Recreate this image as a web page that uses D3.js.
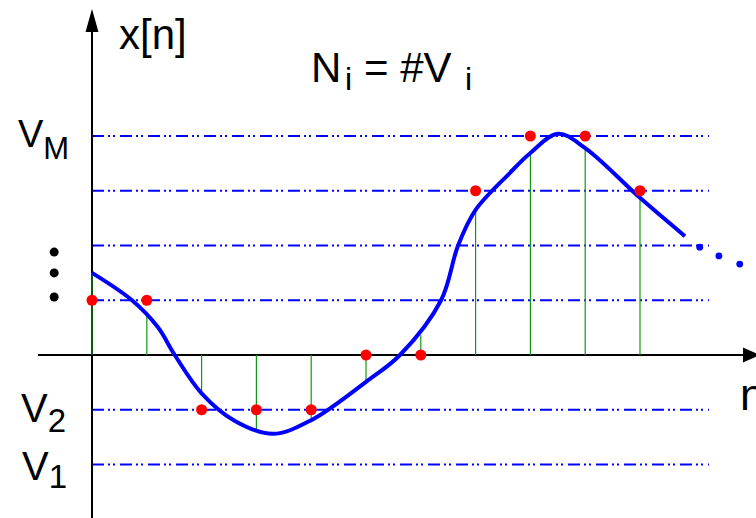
<!DOCTYPE html>
<html>
<head>
<meta charset="utf-8">
<script src="https://cdn.jsdelivr.net/npm/d3@7"></script>
<style>
  body { margin: 0; background: #fff; }
  svg { display: block; }
  text { font-family: "Liberation Sans", Arial, sans-serif; fill: #000; }
</style>
</head>
<body>
<svg id="chart" width="756" height="518"></svg>
<script>
// quantization levels (in units of the level spacing), 0 is the n axis
const levels = [-2, -1, 1, 2, 3, 4];
// sample indices
const samples = [0, 1, 2, 3, 4, 5, 6, 7, 8, 9, 10];
// value of the continuous signal at each sample (green stems)
const sampled = [1.5, 0.77, -0.7, -1.37, -1.19, -0.49, 0.36, 2.65, 3.69, 3.78, 2.87];
// quantized value of each sample (red dots)
const quantized = [1, 1, -1, -1, -1, 0, 0, 3, 4, 4, 3];
// points [n, value]
const curvePts = [
  [0, 1.5], [0.73, 1.0], [1.2, 0.51], [1.51, 0], [2, -0.7], [2.6, -1.2], [3.3, -1.44],
  [4, -1.19], [5, -0.49], [5.62, 0], [6.37, 1.0], [6.68, 2.0], [7, 2.65],
  [7.6, 3.3], [8, 3.69], [8.5, 4.04], [9, 3.78], [10, 2.87], [10.82, 2.17]
];
// trailing "continues" dots [n, value]
const trailDots = [[11.09, 1.97], [11.44, 1.81], [11.82, 1.66]];
// vertical ellipsis between V2 and VM, [n, value]
const ellipsisDots = [[-0.69, 1.88], [-0.69, 1.5], [-0.69, 1.06]];

const svg = d3.select("#chart");
const x = d3.scaleLinear().domain([0, 10]).range([92, 640]);
const y = d3.scaleLinear().domain([0, 4]).range([355, 136]);

// dash-dot level lines
svg.append("g").selectAll("line")
  .data(levels)
  .join("line")
  .attr("x1", x(0))
  .attr("x2", 709)
  .attr("y1", d => y(d))
  .attr("y2", d => y(d))
  .attr("stroke", "#0000ff")
  .attr("stroke-width", 2)
  .attr("stroke-dasharray", "12 4 2 3 2 5");

// axes
svg.append("line")
  .attr("x1", 38).attr("x2", 744)
  .attr("y1", y(0)).attr("y2", y(0))
  .attr("stroke", "#000").attr("stroke-width", 2);
svg.append("path")
  .attr("d", `M743,${y(0) - 7.5} L760,${y(0)} L743,${y(0) + 7.5} Z`)
  .attr("fill", "#000");
svg.append("line")
  .attr("x1", x(0)).attr("x2", x(0))
  .attr("y1", 518).attr("y2", 30)
  .attr("stroke", "#000").attr("stroke-width", 2);
svg.append("path")
  .attr("d", `M${x(0) - 6.5},32 L${x(0)},9 L${x(0) + 6.5},32 Z`)
  .attr("fill", "#000");

// green stems
svg.append("g").selectAll("line")
  .data(samples)
  .join("line")
  .attr("x1", d => x(d))
  .attr("x2", d => x(d))
  .attr("y1", y(0))
  .attr("y2", (d, i) => y(sampled[i]))
  .attr("stroke", "#119911")
  .attr("stroke-width", 1.2);

// continuous signal
const line = d3.line()
  .x(d => x(d[0]))
  .y(d => y(d[1]))
  .curve(d3.curveCatmullRom.alpha(0.5));
svg.append("path")
  .attr("d", line(curvePts))
  .attr("fill", "none")
  .attr("stroke", "#0000ff")
  .attr("stroke-width", 4);

svg.append("g").selectAll("circle")
  .data(trailDots)
  .join("circle")
  .attr("cx", d => x(d[0]))
  .attr("cy", d => y(d[1]))
  .attr("r", 3.4)
  .attr("fill", "#0000ff");

// quantized samples
svg.append("g").selectAll("circle")
  .data(samples)
  .join("circle")
  .attr("cx", d => x(d))
  .attr("cy", (d, i) => y(quantized[i]))
  .attr("r", 5.5)
  .attr("fill", "#ff0000");

svg.append("g").selectAll("circle")
  .data(ellipsisDots)
  .join("circle")
  .attr("cx", d => x(d[0]))
  .attr("cy", d => y(d[1]))
  .attr("r", 4.5)
  .attr("fill", "#000");

// labels
svg.append("text").attr("x", 119).attr("y", 49).attr("font-size", 42).text("x[n]");
svg.append("text").attr("x", 740).attr("y", 410).attr("font-size", 44).text("n");

const vm = svg.append("text").attr("x", 18).attr("y", 147).attr("font-size", 38);
vm.append("tspan").text("V");
vm.append("tspan").attr("font-size", 31).attr("dy", 12).text("M");

const v2 = svg.append("text").attr("x", 21).attr("y", 422).attr("font-size", 40);
v2.append("tspan").text("V");
v2.append("tspan").attr("font-size", 33).attr("dy", 10).text("2");

const v1 = svg.append("text").attr("x", 22).attr("y", 480).attr("font-size", 40);
v1.append("tspan").text("V");
v1.append("tspan").attr("font-size", 33).attr("dy", 8).text("1");

const ni = svg.append("text").attr("x", 311).attr("y", 82).attr("font-size", 42);
ni.append("tspan").text("N");
ni.append("tspan").attr("font-size", 32).attr("dy", 8).attr("x", 345).text("i");
ni.append("tspan").attr("dy", -8).attr("x", 364).text("= #V");
ni.append("tspan").attr("font-size", 32).attr("dy", 8).attr("x", 465).text("i");
</script>
</body>
</html>
